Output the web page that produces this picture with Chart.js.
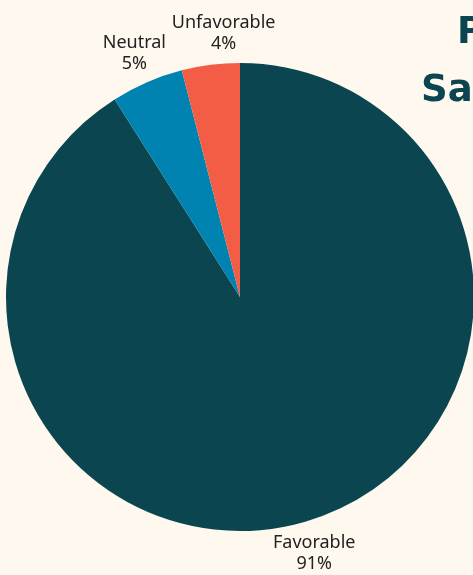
<!DOCTYPE html>
<html>
<head>
<meta charset="utf-8">
<script src="https://cdn.jsdelivr.net/npm/chart.js@4"></script>
<style>
  html, body { margin: 0; padding: 0; background: #fef8ee; overflow: hidden; width: 473px; height: 575px; }
  #wrap { position: absolute; left: 0; top: 0; width: 480px; height: 575px; }
  .head { position: absolute; font-family: "DejaVu Sans", sans-serif; font-weight: bold; font-size: 37px; color: #0b4650; white-space: nowrap; line-height: 1; }
</style>
</head>
<body>
<div id="wrap"><canvas id="pieChart"></canvas></div>
<div class="head" style="left:457px; top:12px;">Patient</div>
<div class="head" style="left:421px; top:70px;">Satisfaction</div>
<script>
// Svarfordeling
const labels = ["Favorable", "Neutral", "Unfavorable"];
const values = [91, 5, 4];
const colors = ["#0b4650", "#0083b0", "#f35d46"];

// Tekst uden for hvert stykke: navn + procent
const outsideLabels = {
    id: "outsideLabels",
    afterDraw(chart) {
        const ctx = chart.ctx;
        const meta = chart.getDatasetMeta(0);
        const nudge = [0, 0, 17];
        ctx.save();
        ctx.font = "18px 'Noto Sans', sans-serif";
        ctx.fillStyle = "#222";
        ctx.textAlign = "center";
        ctx.textBaseline = "middle";
        meta.data.forEach((arc, i) => {
            const mid = (arc.startAngle + arc.endAngle) / 2;
            const r = arc.outerRadius + 32;
            const x = arc.x + Math.cos(mid) * r + nudge[i];
            const y = arc.y + Math.sin(mid) * r;
            ctx.fillText(labels[i], x, y - 10);
            ctx.fillText(values[i] + "%", x, y + 11);
        });
        ctx.restore();
    }
};

new Chart(document.getElementById("pieChart"), {
    type: "pie",
    data: {
        labels: labels,
        datasets: [{
            data: values,
            backgroundColor: colors,
            borderWidth: 0
        }]
    },
    options: {
        responsive: true,
        maintainAspectRatio: false,
        animation: false,
        layout: { padding: { left: 6, right: 6, top: 63, bottom: 44 } },
        plugins: {
            legend: { display: false },
            tooltip: { enabled: false }
        }
    },
    plugins: [outsideLabels]
});
</script>
</body>
</html>
